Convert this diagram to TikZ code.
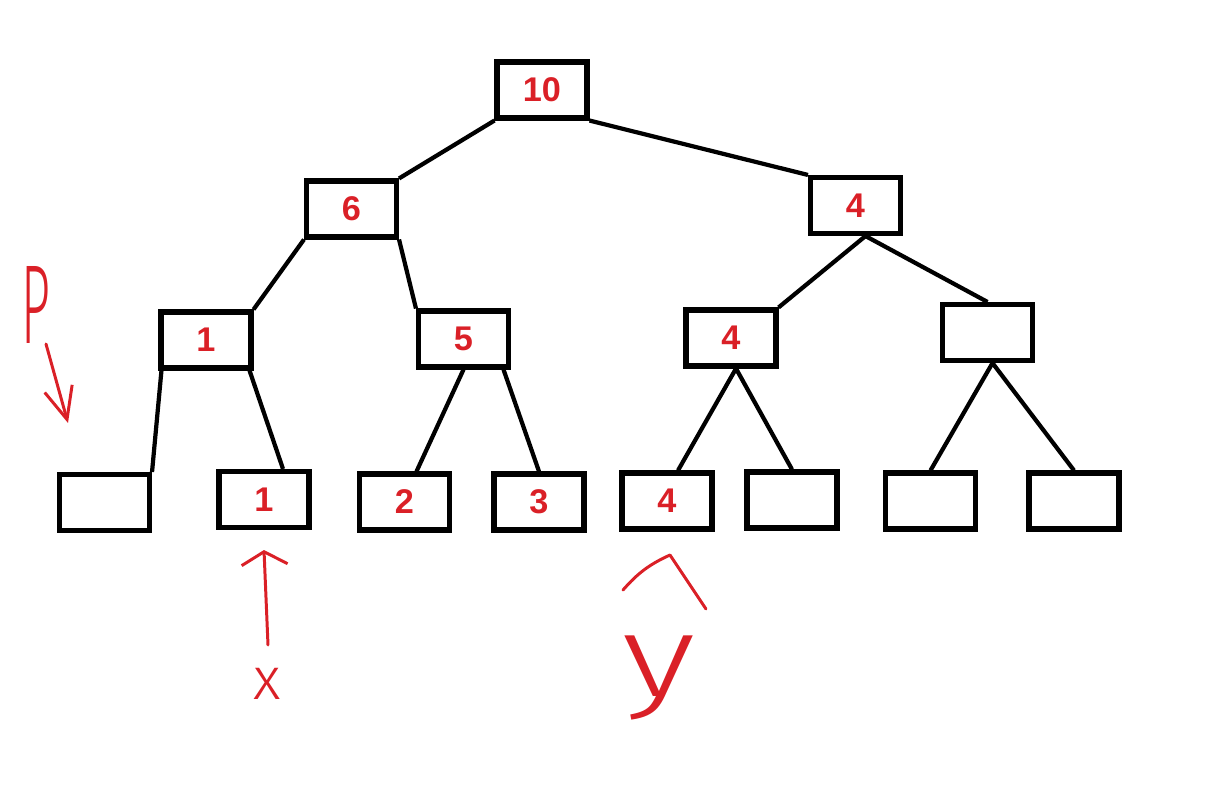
\documentclass[tikz,border=0pt]{standalone}
\usepackage{fontspec}
\setmainfont{Liberation Sans}
\newfontfamily\handfont{Fira Sans Light}
\usepackage{xcolor}
\usepackage{tikz}
\usetikzlibrary{
    arrows.meta,
    calc
}
\definecolor{inkred}{RGB}{218,32,39}

\begin{document}
\begin{tikzpicture}[
    x=0.02cm, y=-0.02cm,
    box/.style={
        rectangle,
        draw=black,
        line width=2.9pt,
        minimum width=1.8cm,
        minimum height=1.12cm,
        inner sep=0pt,
        text=inkred,
        font=\fontsize{19.5}{22}\selectfont\bfseries
    },
    edge/.style={line width=2.4pt, black},
    ink/.style={inkred, line width=1.7pt, line cap=round, line join=round},
    hand/.style={text=inkred, inner sep=0pt}
]
\useasboundingbox (0,0) rectangle (1221,800);

% ===== LEVEL 1-2 =====
\node[box] (root) at (542,90) {10};
\node[box] (n6) at (351.5,209) {6};
\node[box] (n4r) at (855.5,205.5) {4};

% ===== LEVEL 3 =====
\node[box] (n1) at (206,340) {1};
\node[box] (n5) at (463.5,339) {5};
\node[box] (n4m) at (731,338) {4};
\node[box] (ne3) at (987.5,332.5) {};

% ===== LEAVES =====
\node[box] (l1) at (104.5,502.5) {};
\node[box] (l2) at (264,499.5) {1};
\node[box] (l3) at (404.5,502) {2};
\node[box] (l4) at (539,502) {3};
\node[box] (l5) at (667,501) {4};
\node[box] (l6) at (792,500) {};
\node[box] (l7) at (930.5,501) {};
\node[box] (l8) at (1074,501) {};

% edges
\draw[edge] (root.south west) -- (n6.north east);
\draw[edge] (root.south east) -- (n4r.north west);
\draw[edge] (n6.south west) -- (n1.north east);
\draw[edge] (n6.south east) -- (n5.north west);
\draw[edge] ($(n4r.south)+(10,0)$) -- (n4m.north east);
\draw[edge] ($(n4r.south)+(10,0)$) -- (ne3.north);
\draw[edge] ($(n1.south west)+(3,0)$) -- (l1.north east);
\draw[edge] ($(n1.south east)+(-4,0)$) -- ($(l2.north)+(19,0)$);
\draw[edge] (n5.south) -- ($(l3.north)+(12,0)$);
\draw[edge] ($(n5.south)+(40,0)$) -- (l4.north);
\draw[edge] ($(n4m.south)+(5,0)$) -- ($(l5.north)+(11,0)$);
\draw[edge] ($(n4m.south)+(5,0)$) -- (l6.north);
\draw[edge] ($(ne3.south)+(5,0)$) -- (l7.north);
\draw[edge] ($(ne3.south)+(5,0)$) -- (l8.north);

% ===== RED MARKS =====
\node[hand, font=\handfont\fontsize{64}{64}\selectfont] (labP) at (36,305) {\scalebox{0.45}[1]{P}};
\coordinate (pTail) at (46,344);
\coordinate (pTip) at (68,423);
\draw[ink, -{Straight Barb[length=0.64cm, width=0.57cm]}] (pTail) -- (pTip);

\node[hand, font=\handfont\fontsize{34}{34}\selectfont] (labX) at (267,684) {x};
\coordinate (xTail) at (268,645);
\draw[ink, -{Straight Barb[length=0.26cm, width=0.92cm]}] (xTail) -- (l2.south |- 0,550);

\coordinate (caretL) at (623,590);
\coordinate (caretT) at (670,555);
\coordinate (caretR) at (706,609);
\draw[ink] (caretL) to[bend left=12] (caretT) -- (caretR);
\node[hand, font=\handfont\fontsize{66}{66}\selectfont] (labY) at (659,678) {\scalebox{1.35}[1]{y}};

\end{tikzpicture}
\end{document}
